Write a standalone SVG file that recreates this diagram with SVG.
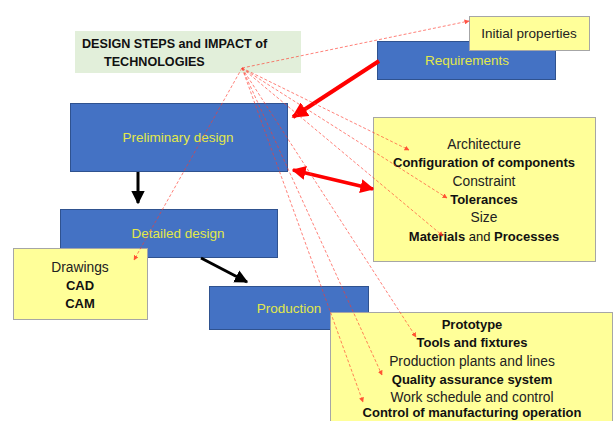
<svg xmlns="http://www.w3.org/2000/svg" width="614" height="421" viewBox="0 0 614 421">
<style>
text{font-family:"Liberation Sans",Arial,sans-serif;}
.blue{fill:#4472C4;stroke:#2F528F;stroke-width:1;}
.yel{fill:#FFFF99;stroke:#A6A6A6;stroke-width:1;}
.bt{fill:#E2E84A;font-size:13.5px;text-anchor:middle;}
.it{fill:#222;font-size:13.8px;text-anchor:middle;}
.ib{fill:#111;font-size:13px;font-weight:bold;text-anchor:middle;}
.dash{stroke:#FF3B2F;stroke-width:0.8;stroke-dasharray:3 2;fill:none;marker-end:url(#sm);opacity:0.8;}
</style>
<defs>
<marker id="sm" viewBox="0 0 10 10" refX="9" refY="5" markerWidth="5" markerHeight="5" orient="auto" markerUnits="userSpaceOnUse"><path d="M0,0 L10,5 L0,10 z" fill="#FF2A1A"/></marker>
<marker id="rh" viewBox="0 0 10 10" refX="9" refY="5" markerWidth="4" markerHeight="4" orient="auto"><path d="M0,0 L10,5 L0,10 z" fill="#FF0000"/></marker>
<marker id="rt" viewBox="0 0 10 10" refX="1" refY="5" markerWidth="4" markerHeight="4" orient="auto"><path d="M10,0 L0,5 L10,10 z" fill="#FF0000"/></marker>
<marker id="bh" viewBox="0 0 10 10" refX="9" refY="5" markerWidth="4.5" markerHeight="4.5" orient="auto"><path d="M0,0 L10,5 L0,10 z" fill="#000"/></marker>
</defs>
<g id="title">
<rect x="75" y="31" width="226" height="42" fill="#E2EFDA"/>
<text x="82" y="48" style="font-size:12.6px;font-weight:bold;fill:#111">DESIGN STEPS and IMPACT of</text>
<text x="104" y="66" style="font-size:12.6px;font-weight:bold;fill:#111">TECHNOLOGIES</text>
</g>
<g id="requirements">
<rect class="blue" x="377.5" y="41.5" width="178" height="38"/>
<text class="bt" x="467" y="65">Requirements</text>
</g>
<g id="initial-properties">
<rect class="yel" x="469.5" y="16.5" width="120" height="34"/>
<text x="529" y="38" style="font-size:13.5px;fill:#222;text-anchor:middle">Initial properties</text>
</g>
<g id="preliminary-design">
<rect class="blue" x="70.5" y="103.5" width="217" height="68"/>
<text class="bt" x="178" y="142">Preliminary design</text>
</g>
<g id="detailed-design">
<rect class="blue" x="60.5" y="209.5" width="217" height="48"/>
<text class="bt" x="178" y="238">Detailed design</text>
</g>
<g id="drawings">
<rect class="yel" x="13.5" y="248.5" width="134" height="71"/>
<text class="it" x="80" y="272">Drawings</text>
<text class="ib" x="80" y="290">CAD</text>
<text class="ib" x="80" y="308">CAM</text>
</g>
<g id="production">
<rect class="blue" x="209.5" y="286.5" width="159" height="43"/>
<text class="bt" x="289" y="313">Production</text>
</g>
<g id="design-properties">
<rect class="yel" x="373.5" y="117.5" width="222" height="144"/>
<text class="it" x="484" y="149">Architecture</text>
<text class="ib" x="484" y="167">Configuration of components</text>
<text class="it" x="484" y="186">Constraint</text>
<text class="ib" x="484" y="204">Tolerances</text>
<text class="it" x="484" y="222">Size</text>
<text x="484" y="241" style="font-size:13px;fill:#111;text-anchor:middle"><tspan font-weight="bold">Materials</tspan> and <tspan font-weight="bold">Processes</tspan></text>
</g>
<g id="production-properties">
<rect class="yel" x="330.5" y="312.5" width="282" height="115"/>
<text class="ib" x="472" y="329">Prototype</text>
<text class="ib" x="472" y="347">Tools and fixtures</text>
<text class="it" x="472" y="366">Production plants and lines</text>
<text class="ib" x="472" y="384">Quality assurance system</text>
<text class="it" x="472" y="402">Work schedule and control</text>
<text class="ib" x="472" y="417">Control of manufacturing operation</text>
</g>
<g id="connectors">
<line x1="138" y1="172" x2="138" y2="203" stroke="#000" stroke-width="3" marker-end="url(#bh)"/>
<line x1="201" y1="258" x2="247" y2="282" stroke="#000" stroke-width="3" marker-end="url(#bh)"/>
<line x1="379" y1="61" x2="293" y2="117" stroke="#FF0000" stroke-width="4" marker-end="url(#rh)"/>
<line x1="293" y1="170" x2="373" y2="189" stroke="#FF0000" stroke-width="3.5" marker-start="url(#rt)" marker-end="url(#rh)"/>
<line class="dash" x1="242" y1="68" x2="469" y2="21"/>
<line class="dash" x1="242" y1="68" x2="409" y2="150"/>
<line class="dash" x1="242" y1="68" x2="447" y2="198"/>
<line class="dash" x1="242" y1="68" x2="443" y2="236"/>
<line class="dash" x1="242" y1="68" x2="134" y2="260"/>
<line class="dash" x1="242" y1="68" x2="416" y2="337"/>
<line class="dash" x1="242" y1="68" x2="382" y2="375"/>
<line class="dash" x1="242" y1="68" x2="363" y2="402"/>
</g>
</svg>
